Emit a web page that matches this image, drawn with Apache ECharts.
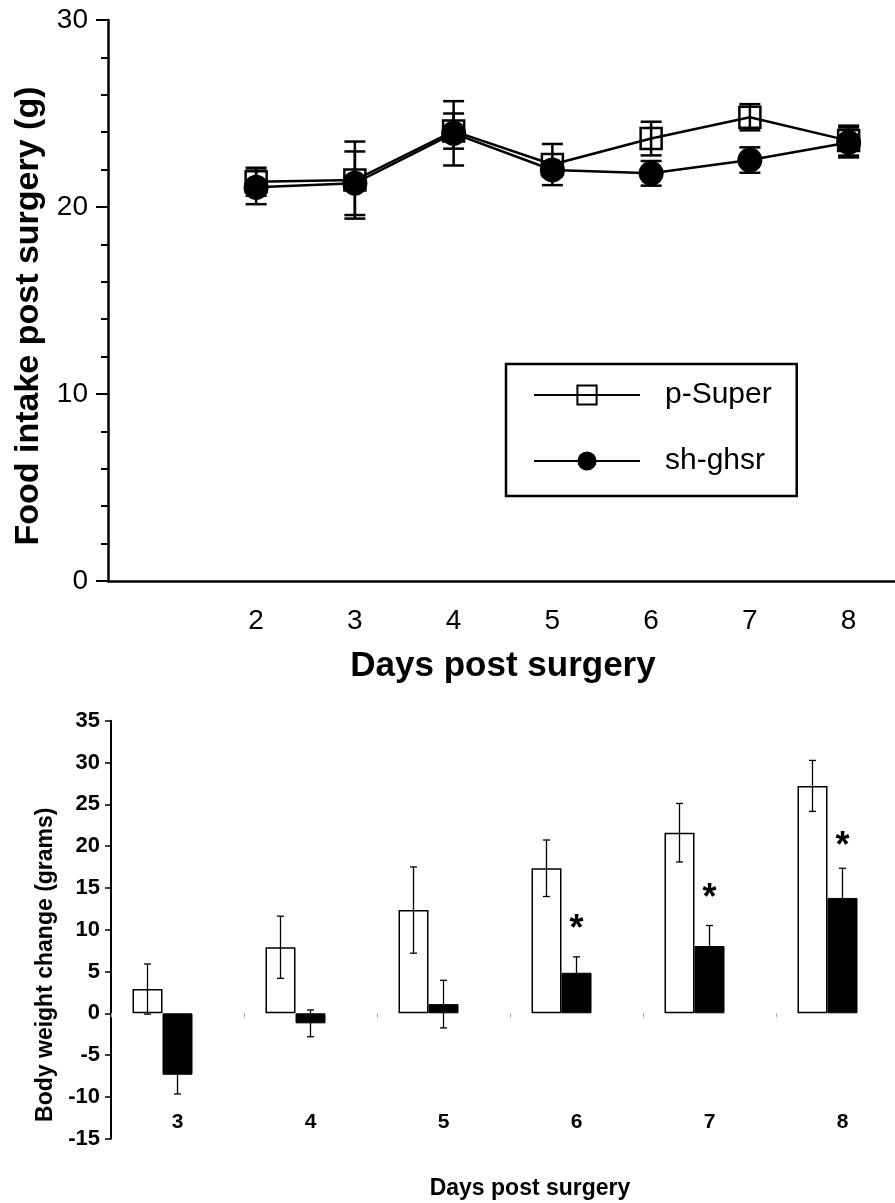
<!DOCTYPE html>
<html><head><meta charset="utf-8">
<script src="https://cdn.jsdelivr.net/npm/echarts@6/dist/echarts.min.js"></script>
<style>html,body{margin:0;padding:0;background:#fff}#c{width:895px;height:1203px}</style>
</head><body><div id="c"></div>
<script>
// ---- top panel: food intake ----
const topDays = ['', '2', '3', '4', '5', '6', '7', '8'];
const pSuperFood = [21.35, 21.44, 24.06, 22.27, 23.66, 24.8, 23.55];
const pSuperFoodErr = [0.75, 2.06, 0.94, 1.1, 0.9, 0.7, 0.8];
const shFood = [21.05, 21.27, 23.94, 21.98, 21.8, 22.51, 23.45];
const shFoodErr = [0.9, 1.7, 1.72, 0.35, 0.66, 0.68, 0.8];
// ---- bottom panel: body weight change ----
const bwDays = ['3', '4', '5', '6', '7', '8'];
const pSuperBW = [2.9, 7.9, 12.35, 17.35, 21.6, 27.2];
const pSuperBWErr = [3.0, 3.72, 5.16, 3.38, 3.5, 3.05];
const shBW = [-7.35, -1.2, 1.1, 4.85, 8.05, 13.8];
const shBWErr = [2.3, 1.6, 2.85, 1.9, 2.45, 3.55];
const sigDays = ['6', '7', '8'];
const sigY = [10.77, 14.55, 20.73];

const FONT = "'Liberation Sans', Arial, sans-serif";

function topPairs(vals) { return vals.map((v, i) => [i + 1, v]); }
function topErr(vals, errs) { return vals.map((v, i) => [i + 1, v, errs[i]]); }
function bwErr(vals, errs) { return vals.map((v, i) => [i, v, errs[i]]); }

function errRender(offsetPx, capHalf, lw) {
  return function (params, api) {
    const x = api.value(0), v = api.value(1), e = api.value(2);
    const c = api.coord([x, v]);
    const hi = api.coord([x, v + e]);
    const lo = api.coord([x, v - e]);
    const cx = c[0] + offsetPx;
    const st = { stroke: '#000', lineWidth: lw };
    return { type: 'group', children: [
      { type: 'line', shape: { x1: cx, y1: hi[1], x2: cx, y2: lo[1] }, style: st },
      { type: 'line', shape: { x1: cx - capHalf, y1: hi[1], x2: cx + capHalf, y2: hi[1] }, style: st },
      { type: 'line', shape: { x1: cx - capHalf, y1: lo[1], x2: cx + capHalf, y2: lo[1] }, style: st }
    ]};
  };
}

const chart = echarts.init(document.getElementById('c'), null, { renderer: 'canvas' });
chart.setOption({
  animation: false,
  backgroundColor: '#fff',
  textStyle: { fontFamily: FONT, color: '#000' },
  grid: [
    { left: 108, top: 20, right: -3, height: 561, containLabel: false, outerBoundsMode: 'none' },
    { left: 111, top: 720.7, right: -14, height: 418, containLabel: false, outerBoundsMode: 'none' }
  ],
  legend: {
    data: ['p-Super', 'sh-ghsr'],
    orient: 'vertical',
    left: 506, top: 364,
    padding: [16, 25, 20, 27],
    itemGap: 36,
    itemWidth: 106, itemHeight: 24,
    borderColor: '#000', borderWidth: 2.5, backgroundColor: '#fff',
    selectedMode: false,
    textStyle: { fontSize: 30, fontFamily: FONT, color: '#000', padding: [0, 0, 0, 20] }
  },
  xAxis: [
    {
      type: 'category', gridIndex: 0, data: topDays, boundaryGap: true,
      axisLine: { lineStyle: { color: '#000', width: 2.5 } },
      axisTick: { length: 16, lineStyle: { color: '#000', width: 2 } },
      axisLabel: { fontSize: 28, color: '#000', margin: 26, fontFamily: FONT },
      name: 'Days post surgery', nameLocation: 'middle', nameGap: 68,
      nameTextStyle: { fontSize: 35, fontWeight: 'bold', color: '#000', fontFamily: FONT },
      splitLine: { show: false }
    },
    {
      type: 'category', gridIndex: 1, data: bwDays, boundaryGap: true,
      axisLine: { show: false, onZero: true },
      axisTick: { show: true, length: 4, lineStyle: { color: '#aaa', width: 1 } },
      axisLabel: { fontSize: 21, fontWeight: 'bold', color: '#000', margin: -27, fontFamily: FONT },
      name: 'Days post surgery', nameLocation: 'middle', nameGap: 38,
      nameTextStyle: { fontSize: 23, fontWeight: 'bold', color: '#000', fontFamily: FONT, padding: [0, 0, 0, 40] },
      splitLine: { show: false }
    }
  ],
  yAxis: [
    {
      type: 'value', gridIndex: 0, min: 0, max: 30, interval: 10,
      axisLine: { show: true, lineStyle: { color: '#000', width: 2.5 } },
      axisTick: { show: true, length: 12, lineStyle: { color: '#000', width: 2 } },
      minorTick: { show: true, splitNumber: 5, length: 7, lineStyle: { color: '#000', width: 2 } },
      axisLabel: { fontSize: 28, color: '#000', margin: 20, fontFamily: FONT },
      splitLine: { show: false },
      name: 'Food intake post surgery (g)', nameLocation: 'middle', nameGap: 61,
      nameTextStyle: { fontSize: 34, fontWeight: 'bold', color: '#000', fontFamily: FONT, padding: [0, 31, 0, 0] }
    },
    {
      type: 'value', gridIndex: 1, min: -15, max: 35, interval: 5,
      axisLine: { show: true, lineStyle: { color: '#000', width: 2 } },
      axisTick: { show: true, length: 6, lineStyle: { color: '#000', width: 1.5 } },
      axisLabel: { fontSize: 22, fontWeight: 'bold', color: '#000', margin: 11, fontFamily: FONT },
      splitLine: { show: false },
      name: 'Body weight change (grams)', nameLocation: 'middle', nameGap: 47,
      nameTextStyle: { fontSize: 23, fontWeight: 'bold', color: '#000', fontFamily: FONT, padding: [0, 70, 0, 0] }
    }
  ],
  series: [
    // top error bars
    { type: 'custom', name: 'pSuperErr', xAxisIndex: 0, yAxisIndex: 0, z: 1,
      renderItem: errRender(0, 10.5, 2.5), data: topErr(pSuperFood, pSuperFoodErr) },
    { type: 'custom', name: 'shErr', xAxisIndex: 0, yAxisIndex: 0, z: 1,
      renderItem: errRender(0, 10.5, 2.5), data: topErr(shFood, shFoodErr) },
    { type: 'line', name: 'p-Super', xAxisIndex: 0, yAxisIndex: 0, z: 3,
      data: topPairs(pSuperFood), symbol: 'rect', symbolSize: 21,
      lineStyle: { color: '#000', width: 2.5 },
      itemStyle: { color: 'none', borderColor: '#000', borderWidth: 2.5 } },
    { type: 'line', name: 'sh-ghsr', xAxisIndex: 0, yAxisIndex: 0, z: 4,
      data: topPairs(shFood), symbol: 'circle', symbolSize: 25,
      lineStyle: { color: '#000', width: 2.5 },
      itemStyle: { color: '#000', borderColor: '#000', borderWidth: 0 } },
    // bottom bars
    { type: 'bar', name: 'p-Super BW', xAxisIndex: 1, yAxisIndex: 1, data: pSuperBW,
      barWidth: 30, barGap: '0%',
      itemStyle: { color: '#fff', borderColor: '#000', borderWidth: 1.5 } },
    { type: 'bar', name: 'sh-ghsr BW', xAxisIndex: 1, yAxisIndex: 1, data: shBW,
      barWidth: 30, barGap: '0%',
      itemStyle: { color: '#000', borderColor: '#000', borderWidth: 1 } },
    { type: 'bar', name: 'slot', xAxisIndex: 1, yAxisIndex: 1, data: [],
      barWidth: 30, barGap: '0%' },
    { type: 'custom', name: 'pSuperBWErr', xAxisIndex: 1, yAxisIndex: 1, z: 5,
      renderItem: errRender(-30, 3.5, 1.3), data: bwErr(pSuperBW, pSuperBWErr) },
    { type: 'custom', name: 'shBWErr', xAxisIndex: 1, yAxisIndex: 1, z: 5,
      renderItem: errRender(0, 3.5, 1.3), data: bwErr(shBW, shBWErr) },
    { type: 'custom', name: 'sig', xAxisIndex: 1, yAxisIndex: 1, z: 6,
      data: sigDays.map((d, i) => [bwDays.indexOf(d), sigY[i]]),
      renderItem: function (params, api) {
        const c = api.coord([api.value(0), api.value(1)]);
        return { type: 'text', x: c[0], y: c[1] + 7,
          style: { text: '*', fill: '#000', font: 'bold 36px ' + FONT, align: 'center', verticalAlign: 'middle' } };
      } }
  ]
});
</script>
</body></html>
